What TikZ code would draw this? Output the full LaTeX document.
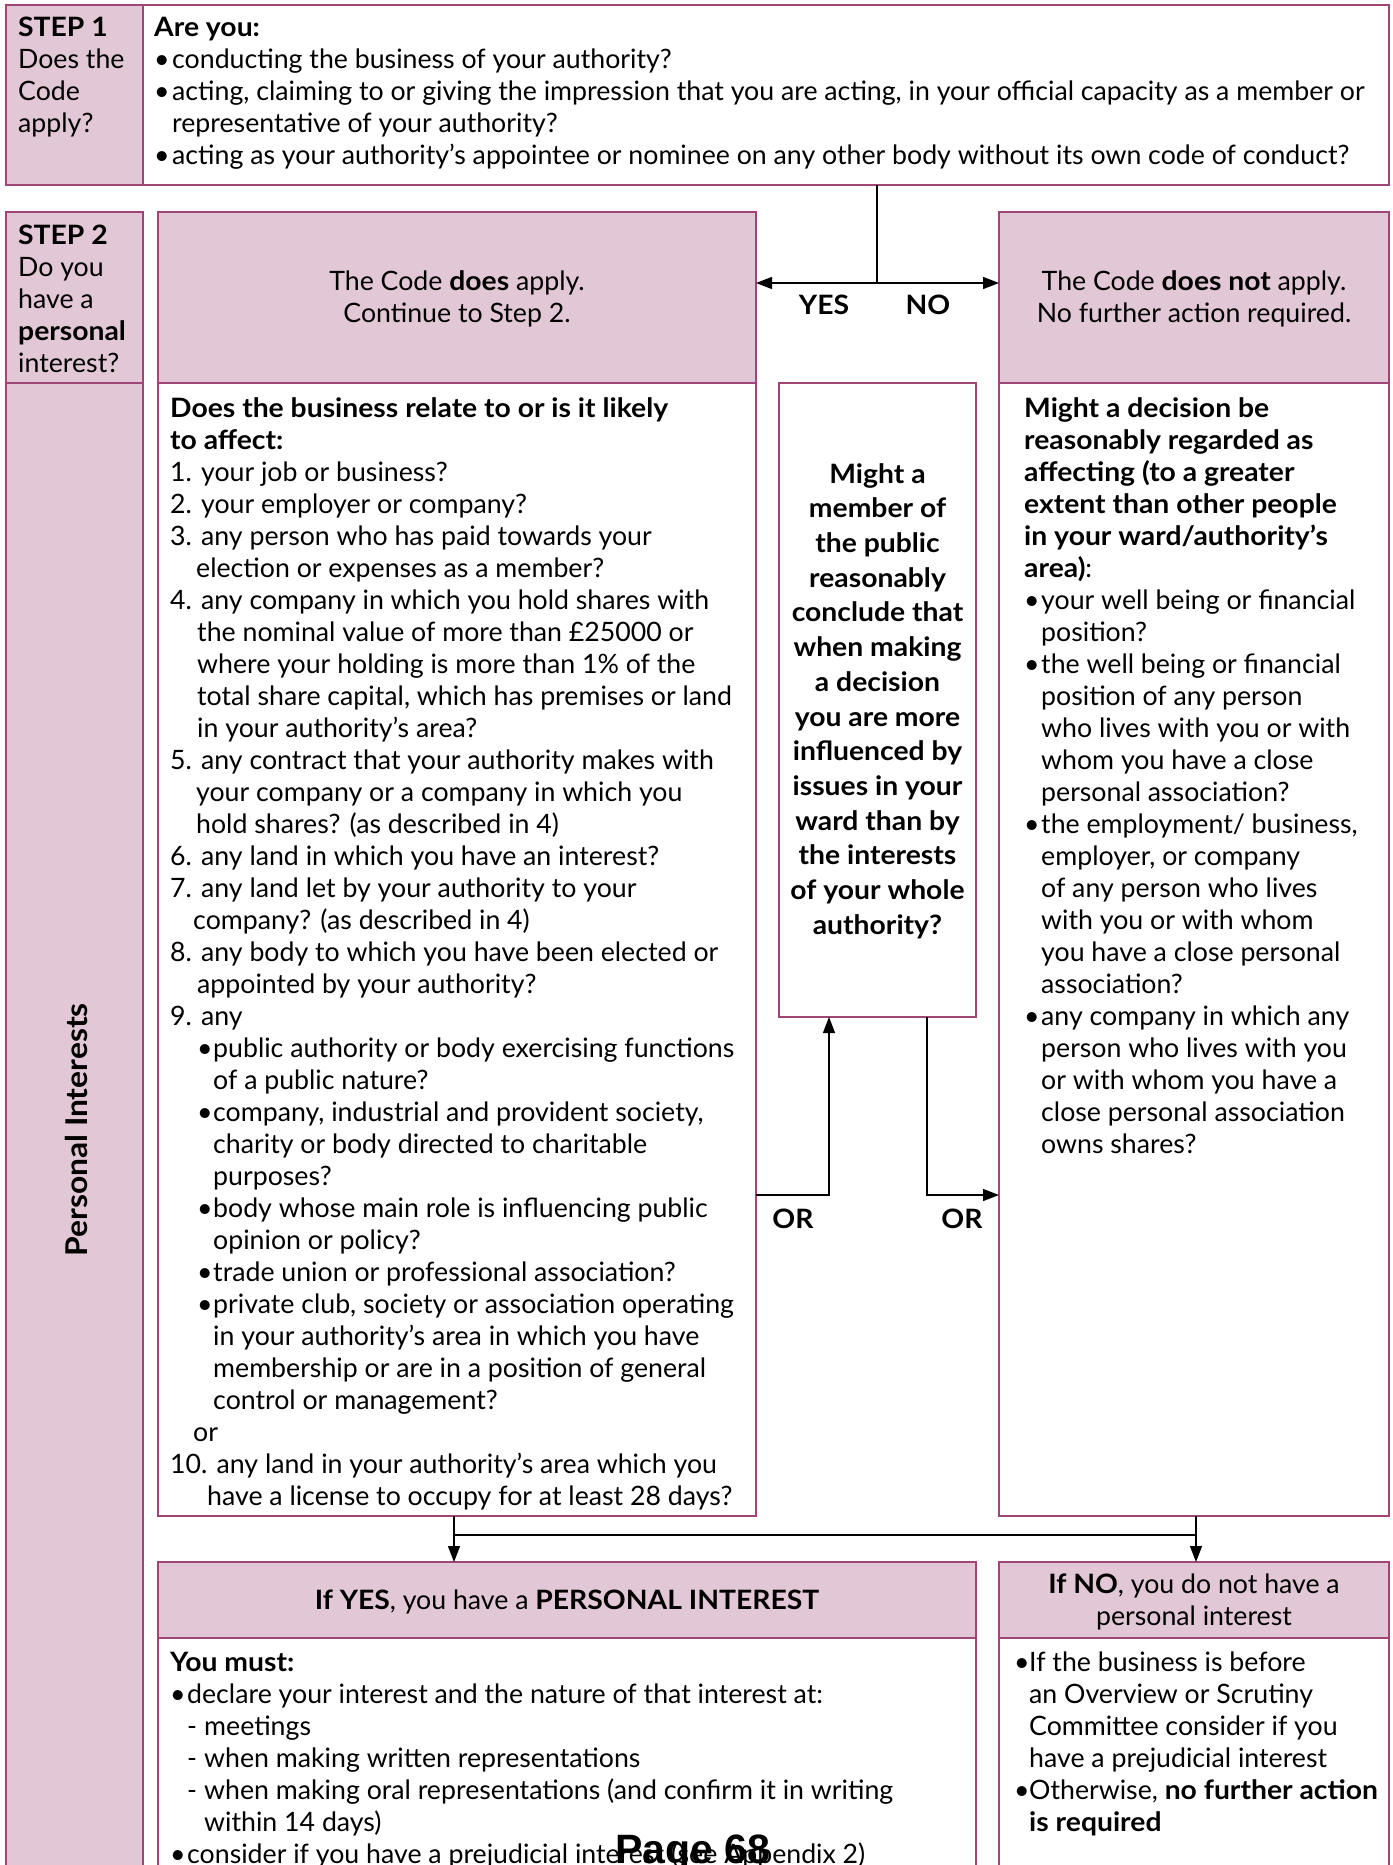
\documentclass[tikz,border=0pt]{standalone}
\usepackage{fontspec}
\setmainfont{Lato}[BoldFeatures={FakeStretch=1.06}]
\newfontfamily\arialf{Liberation Sans}
\usetikzlibrary{arrows.meta}
\definecolor{pinkf}{RGB}{226,200,214}
\definecolor{bord}{RGB}{160,70,118}
\newcommand{\fs}{\fontsize{26.7}{32}\selectfont}
\newcommand{\fsm}{\fontsize{26.7}{34.7}\selectfont}
\newcommand{\bu}[1]{\makebox[#1][l]{•}}
\newcommand{\ind}[1]{\hspace*{#1}}
\newcommand{\bx}[6]{\node[#1, minimum width={#5-#3}, minimum height={#6-#4}] (#2) at (#3,#4) {};}
\begin{document}
\begin{tikzpicture}[x=1pt,y=-1pt,
  pk/.style={draw=bord, fill=pinkf, line width=1.4pt, anchor=north west, inner sep=0, outer sep=0},
  wb/.style={draw=bord, fill=white, line width=1.4pt, anchor=north west, inner sep=0, outer sep=0},
  txt/.style={anchor=north west, align=left, inner sep=0, font=\fs},
  ctr/.style={align=center, inner sep=0, font=\fs},
  conn/.style={line width=1.3pt, draw=black},
  tip/.style={-{Triangle[length=16pt,width=12pt]}},
  lab/.style={font=\fs\bfseries, inner sep=0}]
\useasboundingbox (0,0) rectangle (1392,1865);
\clip (0,0) rectangle (1392,1865);
% boxes
\bx{pk}{s1lab}{6}{5}{143}{185}
\bx{wb}{s1main}{143}{5}{1389}{185}
\bx{pk}{s2lab}{6}{212}{143}{383}
\bx{pk}{pilab}{6}{383}{143}{1900}
\bx{pk}{yesA}{158}{212}{756}{383}
\bx{pk}{noA}{999}{212}{1389}{383}
\bx{wb}{leftbox}{158}{383}{756}{1516}
\bx{wb}{midbox}{779}{383}{976}{1017}
\bx{wb}{rightbox}{999}{383}{1389}{1516}
\bx{pk}{yeshead}{158}{1562}{976}{1638}
\bx{wb}{yesbody}{158}{1638}{976}{1900}
\bx{pk}{nohead}{999}{1562}{1389}{1638}
\bx{wb}{nobody}{999}{1638}{1389}{1900}
% texts
\node[txt] (t1) at (18,17) {\textbf{STEP 1}\\Does the\\Code\\apply?};
\node[txt] (t2) at (154,17) {\textbf{Are you:}\\
\bu{18pt}conducting the business of your authority?\\
\bu{18pt}acting, claiming to or giving the impression that you are acting, in your official capacity as a member or\\
\ind{18pt}representative of your authority?\\
\bu{18pt}acting as your authority’s appointee or nominee on any other body without its own code of conduct?};
\node[txt] (t3) at (18,225) {\textbf{STEP 2}\\Do you\\have a\\\textbf{personal}\\interest?};
\node[font=\bfseries\fontsize{30}{32}\selectfont, rotate=90, inner sep=0] (t4) at (76,1130) {Personal Interests};
\node[ctr] (t5) at (457,299) {The Code \textbf{does} apply.\\Continue to Step 2.};
\node[ctr] (t6) at (1194,299) {The Code \textbf{does not} apply.\\No further action required.};
\node[txt] (t7) at (170,397) {\textbf{Does the business relate to or is it likely}\\
\textbf{to affect:}\\
1. your job or business?\\
2. your employer or company?\\
3. any person who has paid towards your\\
\ind{26pt}election or expenses as a member?\\
4. any company in which you hold shares with\\
\ind{27pt}the nominal value of more than £25000 or\\
\ind{27pt}where your holding is more than 1\% of the\\
\ind{27pt}total share capital, which has premises or land\\
\ind{27pt}in your authority’s area?\\
5. any contract that your authority makes with\\
\ind{26pt}your company or a company in which you\\
\ind{26pt}hold shares? (as described in 4)\\
6. any land in which you have an interest?\\
7. any land let by your authority to your\\
\ind{23pt}company? (as described in 4)\\
8. any body to which you have been elected or\\
\ind{27pt}appointed by your authority?\\
9. any\\
\ind{27pt}\bu{16pt}public authority or body exercising functions\\
\ind{43pt}of a public nature?\\
\ind{27pt}\bu{16pt}company, industrial and provident society,\\
\ind{43pt}charity or body directed to charitable\\
\ind{43pt}purposes?\\
\ind{27pt}\bu{16pt}body whose main role is influencing public\\
\ind{43pt}opinion or policy?\\
\ind{27pt}\bu{16pt}trade union or professional association?\\
\ind{27pt}\bu{16pt}private club, society or association operating\\
\ind{43pt}in your authority’s area in which you have\\
\ind{43pt}membership or are in a position of general\\
\ind{43pt}control or management?\\
\ind{23pt}or\\
10. any land in your authority’s area which you\\
\ind{37pt}have a license to occupy for at least 28 days?};
\node[align=center, inner sep=0, font=\fsm\bfseries] (t8) at (877.5,701) {Might a\\member of\\the public\\reasonably\\conclude that\\when making\\a decision\\you are more\\influenced by\\issues in your\\ward than by\\the interests\\of your whole\\authority?};
\node[txt] (t9) at (1024,397) {\textbf{Might a decision be}\\
\textbf{reasonably regarded as}\\
\textbf{affecting (to a greater}\\
\textbf{extent than other people}\\
\textbf{in your ward/authority’s}\\
\textbf{area)}:\\
\bu{17pt}your well being or financial\\
\ind{17pt}position?\\
\bu{17pt}the well being or financial\\
\ind{17pt}position of any person\\
\ind{17pt}who lives with you or with\\
\ind{17pt}whom you have a close\\
\ind{17pt}personal association?\\
\bu{17pt}the employment/ business,\\
\ind{17pt}employer, or company\\
\ind{17pt}of any person who lives\\
\ind{17pt}with you or with whom\\
\ind{17pt}you have a close personal\\
\ind{17pt}association?\\
\bu{17pt}any company in which any\\
\ind{17pt}person who lives with you\\
\ind{17pt}or with whom you have a\\
\ind{17pt}close personal association\\
\ind{17pt}owns shares?};
\node[ctr] (t10) at (567,1602) {\textbf{If YES}, you have a \textbf{PERSONAL INTEREST}};
\node[ctr] (t11) at (1194,1602) {\textbf{If NO}, you do not have a\\personal interest};
\node[txt] (t12) at (170,1652) {\textbf{You must:}\\
\bu{17pt}declare your interest and the nature of that interest at:\\
\ind{17pt}\makebox[17pt][l]{-}meetings\\
\ind{17pt}\makebox[17pt][l]{-}when making written representations\\
\ind{17pt}\makebox[17pt][l]{-}when making oral representations (and confirm it in writing\\
\ind{34pt}within 14 days)\\
\bu{17pt}consider if you have a prejudicial interest (see Appendix 2)};
\node[txt] (t13) at (1014,1652) {\bu{15pt}If the business is before\\
\ind{15pt}an Overview or Scrutiny\\
\ind{15pt}Committee consider if you\\
\ind{15pt}have a prejudicial interest\\
\bu{15pt}Otherwise, \textbf{no further action}\\
\ind{15pt}\textbf{is required}};
% connectors
\coordinate (j1) at (877,283);
\draw[conn] (s1main.south -| j1) -- (j1);
\draw[conn,tip] (j1) -- (yesA.east |- j1);
\draw[conn,tip] (j1) -- (noA.west |- j1);
\node[lab] (yes) at (824,305) {YES};
\node[lab] (no) at (928,305) {NO};
\coordinate (o1) at (829,1195);
\coordinate (o2) at (927,1195);
\draw[conn,tip] (leftbox.east |- o1) -- (o1) -- (midbox.south -| o1);
\draw[conn,tip] (midbox.south -| o2) -- (o2) -- (rightbox.west |- o2);
\node[lab] (or1) at (793,1219) {OR};
\node[lab] (or2) at (962,1219) {OR};
\coordinate (d1) at (454,1535);
\coordinate (d2) at (1196,1535);
\draw[conn] (d1) -- (d2);
\draw[conn,tip] (leftbox.south -| d1) -- (yeshead.north -| d1);
\draw[conn,tip] (rightbox.south -| d2) -- (nohead.north -| d2);
% page overlay
\node[anchor=base west, inner sep=0, font=\arialf\bfseries\fontsize{41}{41}\selectfont] (pg) at (615,1863) {Page 68};
\end{tikzpicture}
\end{document}
